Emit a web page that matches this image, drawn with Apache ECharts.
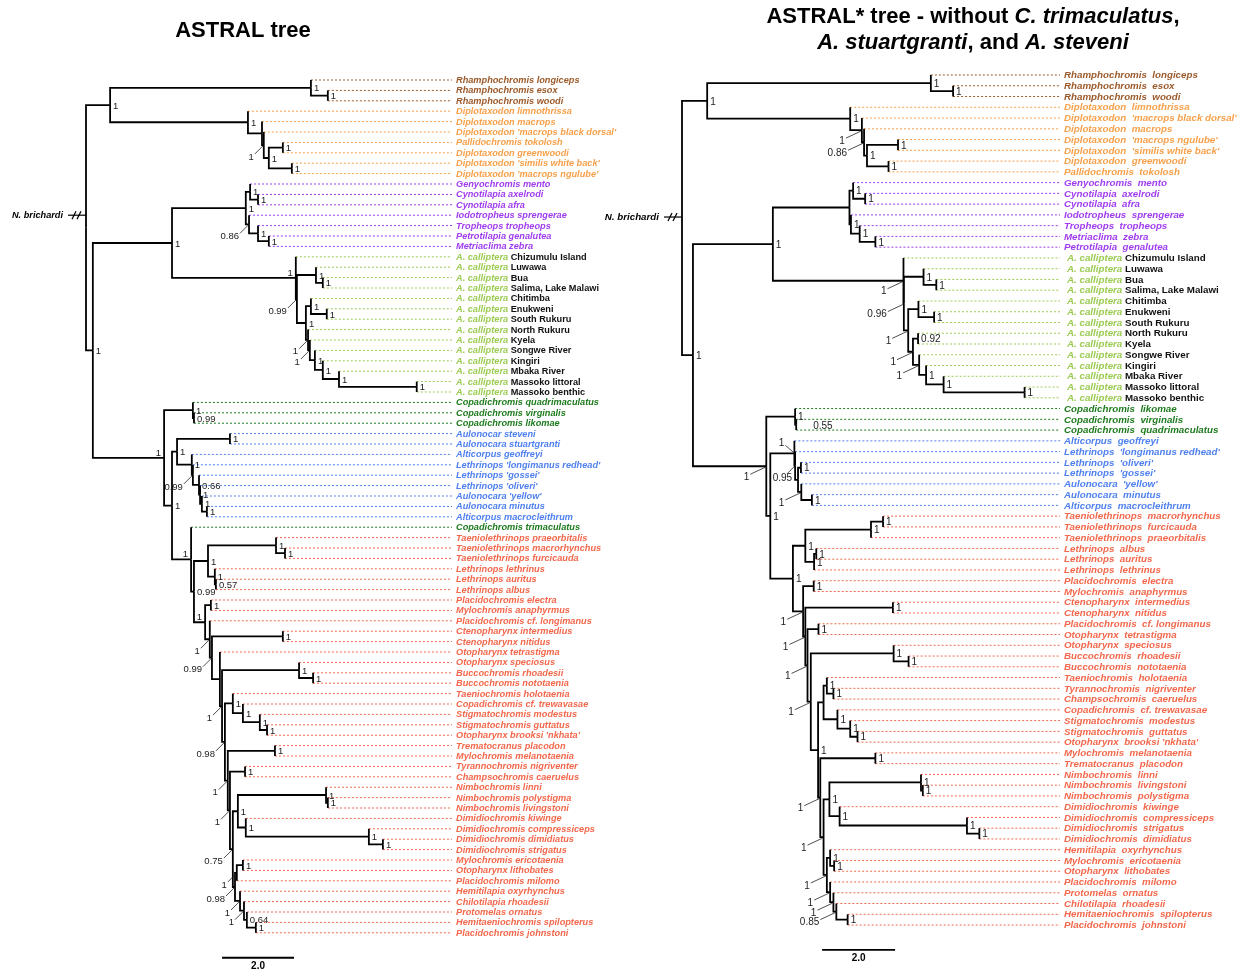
<!DOCTYPE html>
<html><head><meta charset="utf-8">
<script src="https://cdn.jsdelivr.net/npm/echarts@6/dist/echarts.min.js"></script>
<style>html,body{margin:0;padding:0;background:#fff}#c{width:1238px;height:970px}</style>
</head><body><div id="c"></div>
<script>
const FONT = '"Liberation Sans", Arial, Helvetica, sans-serif';

// ---------- DATA ----------
const leftLeaves = [
 'Rhamphochromis longiceps','Rhamphochromis esox','Rhamphochromis woodi',
 'Diplotaxodon limnothrissa','Diplotaxodon macrops',"Diplotaxodon 'macrops black dorsal'",'Pallidochromis tokolosh','Diplotaxodon greenwoodi',"Diplotaxodon 'similis white back'","Diplotaxodon 'macrops ngulube'",
 'Genyochromis mento','Cynotilapia axelrodi','Cynotilapia afra','Iodotropheus sprengerae','Tropheops tropheops','Petrotilapia genalutea','Metriaclima zebra',
 'A. calliptera Chizumulu Island','A. calliptera Luwawa','A. calliptera Bua','A. calliptera Salima, Lake Malawi','A. calliptera Chitimba','A. calliptera Enukweni','A. calliptera South Rukuru','A. calliptera North Rukuru','A. calliptera Kyela','A. calliptera Songwe River','A. calliptera Kingiri','A. calliptera Mbaka River','A. calliptera Massoko littoral','A. calliptera Massoko benthic',
 'Copadichromis quadrimaculatus','Copadichromis virginalis','Copadichromis likomae',
 'Aulonocar steveni','Aulonocara stuartgranti','Alticorpus geoffreyi',"Lethrinops 'longimanus redhead'","Lethrinops 'gossei'","Lethrinops 'oliveri'","Aulonocara 'yellow'",'Aulonocara minutus','Alticorpus macrocleithrum',
 'Copadichromis trimaculatus',
 'Taeniolethrinops praeorbitalis','Taeniolethrinops macrorhynchus','Taeniolethrinops furcicauda','Lethrinops lethrinus','Lethrinops auritus','Lethrinops albus','Placidochromis electra','Mylochromis anaphyrmus','Placidochromis cf. longimanus','Ctenopharynx intermedius','Ctenopharynx nitidus','Otopharynx tetrastigma','Otopharynx speciosus','Buccochromis rhoadesii','Buccochromis nototaenia','Taeniochromis holotaenia','Copadichromis cf. trewavasae','Stigmatochromis modestus','Stigmatochromis guttatus',"Otopharynx brooksi 'nkhata'",'Trematocranus placodon','Mylochromis melanotaenia','Tyrannochromis nigriventer','Champsochromis caeruelus','Nimbochromis linni','Nimbochromis polystigma','Nimbochromis livingstoni','Dimidiochromis kiwinge','Dimidiochromis compressiceps','Dimidiochromis dimidiatus','Dimidiochromis strigatus','Mylochromis ericotaenia','Otopharynx lithobates','Placidochromis milomo','Hemitilapia oxyrhynchus','Chilotilapia rhoadesii','Protomelas ornatus','Hemitaeniochromis spilopterus','Placidochromis johnstoni'
];
const leftGroups = 'RRRDDDDDDDMMMMMMMCCCCCCCCCCCCCCGGGBBBBBBBBBGOOOOOOOOOOOOOOOOOOOOOOOOOOOOOOOOOOOOOOO'.split('');

const rightLeaves = [
 'Rhamphochromis longiceps','Rhamphochromis esox','Rhamphochromis woodi',
 'Diplotaxodon limnothrissa',"Diplotaxodon 'macrops black dorsal'",'Diplotaxodon macrops',"Diplotaxodon 'macrops ngulube'","Diplotaxodon 'similis white back'",'Diplotaxodon greenwoodi','Pallidochromis tokolosh',
 'Genyochromis mento','Cynotilapia axelrodi','Cynotilapia afra','Iodotropheus sprengerae','Tropheops tropheops','Metriaclima zebra','Petrotilapia genalutea',
 'A. calliptera Chizumulu Island','A. calliptera Luwawa','A. calliptera Bua','A. calliptera Salima, Lake Malawi','A. calliptera Chitimba','A. calliptera Enukweni','A. calliptera South Rukuru','A. calliptera North Rukuru','A. calliptera Kyela','A. calliptera Songwe River','A. calliptera Kingiri','A. calliptera Mbaka River','A. calliptera Massoko littoral','A. calliptera Massoko benthic',
 'Copadichromis likomae','Copadichromis virginalis','Copadichromis quadrimaculatus',
 'Alticorpus geoffreyi',"Lethrinops 'longimanus redhead'","Lethrinops 'oliveri'","Lethrinops 'gossei'","Aulonocara 'yellow'",'Aulonocara minutus','Alticorpus macrocleithrum',
 'Taeniolethrinops macrorhynchus','Taeniolethrinops furcicauda','Taeniolethrinops praeorbitalis','Lethrinops albus','Lethrinops auritus','Lethrinops lethrinus','Placidochromis electra','Mylochromis anaphyrmus','Ctenopharynx intermedius','Ctenopharynx nitidus','Placidochromis cf. longimanus','Otopharynx tetrastigma','Otopharynx speciosus','Buccochromis rhoadesii','Buccochromis nototaenia','Taeniochromis holotaenia','Tyrannochromis nigriventer','Champsochromis caeruelus','Copadichromis cf. trewavasae','Stigmatochromis modestus','Stigmatochromis guttatus',"Otopharynx brooksi 'nkhata'",'Mylochromis melanotaenia','Trematocranus placodon','Nimbochromis linni','Nimbochromis livingstoni','Nimbochromis polystigma','Dimidiochromis kiwinge','Dimidiochromis compressiceps','Dimidiochromis strigatus','Dimidiochromis dimidiatus','Hemitilapia oxyrhynchus','Mylochromis ericotaenia','Otopharynx lithobates','Placidochromis milomo','Protomelas ornatus','Chilotilapia rhoadesii','Hemitaeniochromis spilopterus','Placidochromis johnstoni'
];
const rightGroups = 'RRRDDDDDDDMMMMMMMCCCCCCCCCCCCCCGGGBBBBBBBOOOOOOOOOOOOOOOOOOOOOOOOOOOOOOOOOOOOOOO'.split('');

// topology: (child,child)depth:support:labelPlacement ; leaves = leaf index ; depth in branch-length units
const L_RD = '((0,(1,2)6.72:1:r)6.25:1:r,(3,(4,(5,((6,7)5.47:1:r,(8,9)5.72:1:r)5.08:1:r)4.94:1:l)4.89::n)4.50:1:r)0.67:1:r';
const L_MBUNA = '((10,(11,12)4.78:1:r)4.56:1:r,(13,(14,(15,16)5.08:1:r)4.78:1:r)4.53:0.86:l)4.44:1:r';
const L_CALL = '(17,((18,(19,20)6.58:1:r)6.39:1:r,((21,(22,23)6.69:1:r)6.25:1:r,(24,(25,(26,(27,(28,(29,30)9.19:1:r)7.03:1:r)6.58:1:r)6.36:1:r)6.22:1:l)6.17:1:l)6.11:1:r)5.86:0.99:l)5.83:1:a';
const L_COPA = '(31,(32,33)3.0:0.99:r)2.97:1:r';
const L_BLUE = '((34,35)4.0:1:r,(36,(37,(38,(39,(40,(41,42)3.36:1:r)3.22:1:r)3.17:1:r)3.14:0.66:r)2.97:0.99:l)2.94:1:r)2.53:1:r';
const L_TL = '((44,(45,46)5.53:1:r)5.28:1:r,(47,(48,49)3.61:0.57:r)3.58:1:r)3.39:1:r';
const L_HOLO = '(59,(60,(61,(62,63)5.03:1:r)4.83:1:r)4.36:1:r)4.08:1:r';
const L_ND = '((68,(69,70)6.72:1:r)6.67:1:r,(71,(72,(73,74)8.25:1:r)7.86:1:r)4.44:1:r)4.22:1:r';
const L_H5 = '(((75,76)4.36:1:r,77)4.19:1:l,(78,(79,(80,(81,82)4.72:1:r)4.47:0.64:r)4.39:1:l)4.28:1:l)4.14:0.98:l';
const L_W = `(52,((53,54)5.47:1:r,(55,((56,(57,58)6.31:1:r)5.92:1:r,(${L_HOLO},((64,65)5.25:1:r,((66,67)4.42:1:r,(${L_ND},${L_H5})4.08:0.75:l)4.0:1:l)3.94:1:l)3.86:0.98:l)3.78:1:l)3.72::n)3.5:0.99:l)3.44:1:l`;
const L_RED = `(43,(${L_TL},((50,51)3.47:1:r,${L_W})3.31:1:a)3.0:0.99:r)2.92:1:a`;
const leftTopology = `(${L_RD},((${L_MBUNA},${L_CALL})2.39:1:r,(${L_COPA},(${L_BLUE},${L_RED})2.39:1:r)2.17:1:a)0.19:1:r)0::n`;

const R_RD = '((0,(1,2)7.43:1:r)6.82:1:r,(3,(4,(5,((6,7)5.92:1:r,(8,9)5.66:1:r)5.07:1:r)4.99:0.86:l)4.93:1:l)4.61:1:r)0.69:1:r';
const R_MBUNA = '((10,(11,12)5.02:1:r)4.69:1:r,(13,(14,(15,16)5.30:1:r)4.87:1:r)4.63:1:r)4.59::n';
const R_CALL = '(17,((18,(19,20)6.97:1:r)6.62:1:r,((21,(22,23)6.91:1:r)6.48:1:r,((24,25)6.47:0.92:r,(26,(27,(28,(29,30)9.39:1:r)7.17:1:r)6.69:1:r)6.50:1:l)6.33:1:l)6.20:1:l)6.08:0.96:l)6.07:1:l';
const R_COPA = '(31,(32,33)3.13:0.55:f)3.10:1:r';
const R_BLUE = '(34,(35,((36,37)3.26:1:r,(38,(39,40)3.56:1:r)3.27:1:l)3.18::n)3.10:0.95:d)3.08:1:u';
const R_TL = '(((41,42)5.51:1:r,43)5.18:1:r,((44,45)3.68:1:r,46)3.62:1:r)3.38:1:r';
const R_HT = '((56,(57,58)4.15:1:r)3.97:1:r,(59,(60,(61,62)4.81:1:r)4.61:1:r)4.26:1:r)3.88::n';
const R_ND = '((65,(66,67)6.60:1:r)6.55:1:r,(68,(69,(70,71)8.15:1:r)7.81:1:r)4.32:1:r)4.04:1:r';
const R_S5 = '((72,(73,74)4.17:1:r)4.06:1:r,(75,(76,(77,(78,79)4.54:1:r)4.23:0.85:l)4.15:1:l)4.06:1:l)3.97:1:l';
const R_X = `((47,48)3.61:1:r,((49,50)5.78:1:r,((51,52)3.74:1:r,((53,(54,55)6.21:1:r)5.80:1:r,(${R_HT},((63,64)5.30:1:r,(${R_ND},${R_S5})3.88:1:l)3.79:1:l)3.73:1:r)3.53:1:l)3.44:1:l)3.38:1:l)3.32:1:l`;
const rightTopology = `(${R_RD},((${R_MBUNA},${R_CALL})2.49:1:r,(${R_COPA},(${R_BLUE},(${R_TL},${R_X})3.04:1:r)2.42:1:r)2.31:1:l)0.30:1:r)0::n`;

const tipAlign = [10.17, 10.36];        // depth where dotted tip lines end
const outgroupPos = [13.0, 13.2];       // leaf-row position of N. brichardi stub
const scaleBars = [[3.78, 84.4, 2.0], [3.84, 81.3, 2.0]];
const groupColors = {R:'#9b5a2b', D:'#f7a04a', M:'#a03cf0', C:'#9ccb52', G:'#1e7b1e', B:'#4f80f0', O:'#f3684c'};

// ---------- TREE HANDLING ----------
function parseTree(str){
  let i = 0;
  function tok(){ let t=''; while(i<str.length && str[i]!==',' && str[i]!==')') t+=str[i++]; return t; }
  function node(){
    if(str[i]==='('){
      i++; const kids=[node()];
      while(str[i]===','){ i++; kids.push(node()); }
      i++;
      const [d,s,p] = tok().split(':');
      return {kids, depth:parseFloat(d), sup:s||'', pos:p||'n'};
    }
    return {leaf: parseInt(tok(),10)};
  }
  return node();
}
function layoutTree(str){
  const root = parseTree(str);
  const edges=[], tips=[], sups=[];
  (function walk(n){
    if(n.leaf!==undefined){ n.y=n.leaf; return; }
    n.kids.forEach(walk);
    n.y = (n.kids[0].y + n.kids[n.kids.length-1].y)/2;
    n.kids.forEach(k=>{
      const isLeaf = k.leaf!==undefined;
      edges.push([n.depth, n.y, isLeaf? n.depth : k.depth, k.y]);
      if(isLeaf) tips.push([n.depth, k.y, k.leaf]);
    });
    if(n.sup) sups.push([n.depth, n.y, sups.length, n.sup, n.pos]);
  })(root);
  return {edges, tips, sups, root};
}

const trees = [
  {lay: layoutTree(leftTopology), names:leftLeaves, groups:leftGroups, fs:9.2, sfs:9.5, dbl:false, ldx:8, ldy:8},
  {lay: layoutTree(rightTopology), names:rightLeaves, groups:rightGroups, fs:9.75, sfs:10, dbl:true, ldx:15, ldy:7}
];

const series = [];
trees.forEach((T, ti)=>{
  const axis = {xAxisIndex:ti, yAxisIndex:ti, coordinateSystem:'cartesian2d', silent:true, clip:false};
  // tip dotted lines + labels
  series.push(Object.assign({type:'custom', z:2, data:T.lay.tips, renderItem(params, api){
    const leaf = api.value(2);
    const a = api.coord([api.value(0), api.value(1)]);
    const b = api.coord([tipAlign[ti], api.value(1)]);
    const g = T.groups[leaf], col = groupColors[g];
    let name = T.names[leaf];
    const base = {fontSize:T.fs, fontFamily:FONT, fontWeight:'bold'};
    let txt;
    if(g==='C'){
      const rest = name.replace('A. calliptera ','');
      txt = {type:'text', style:{text:'{g|A. calliptera} {b|'+rest+'}', x:b[0]+4+(T.dbl?3:0), y:b[1]+0.5,
        font:`bold ${T.fs}px ${FONT}`, fill:'#000', align:'left', verticalAlign:'middle',
        rich:{g:Object.assign({fill:col, fontStyle:'italic'}, base), b:Object.assign({fill:'#111'}, base)}}};
    } else {
      if(T.dbl) name = name.replace(' ', '  ');
      txt = {type:'text', style:{text:name, x:b[0]+4, y:b[1]+0.5, font:`italic bold ${T.fs}px ${FONT}`,
        fill:col, align:'left', verticalAlign:'middle'}};
    }
    return {type:'group', children:[
      {type:'line', shape:{x1:a[0], y1:a[1], x2:b[0], y2:b[1]}, style:{stroke:col, lineWidth:1, lineDash:[2,2]}},
      txt]};
  }}, axis));
  // branches
  series.push(Object.assign({type:'custom', z:3, data:T.lay.edges, renderItem(params, api){
    const p0 = api.coord([api.value(0), api.value(1)]);
    const p1 = api.coord([api.value(0), api.value(3)]);
    const p2 = api.coord([api.value(2), api.value(3)]);
    return {type:'polyline', shape:{points:[p0,p1,p2]}, style:{stroke:'#000', lineWidth:1.8, fill:null, lineJoin:'miter'}};
  }}, axis));
  // support values
  series.push(Object.assign({type:'custom', z:4, data:T.lay.sups.map(s=>[s[0],s[1],s[2]]), renderItem(params, api){
    const s = T.lay.sups[params.dataIndex];
    const p = api.coord([s[0], s[1]]);
    const font = `${T.sfs}px ${FONT}`;
    const st = (text, x, y, align)=>({type:'text', style:{text, x, y, font, fill:'#222', align, verticalAlign:'middle'}});
    const ln = (x1,y1,x2,y2)=>({type:'line', shape:{x1,y1,x2,y2}, style:{stroke:'#222', lineWidth:0.8}});
    if(s[4]==='r') return st(s[3], p[0]+3, p[1]+1, 'left');
    if(s[4]==='f') return st(s[3], p[0]+17, p[1]+1.5, 'left');
    if(s[4]==='a') return st(s[3], p[0]-3, p[1]-5, 'right');
    if(s[4]==='d') return {type:'group', children:[ln(p[0]-1, p[1]+1, p[0]-8, p[1]+8), st(s[3], p[0]-3, p[1]+13, 'right')]};
    if(s[4]==='l' || s[4]==='u'){
      const up = s[4]==='u';
      const ex = p[0]-1-(up?8:T.ldx), ey = up ? p[1]-8 : p[1]+1+T.ldy;
      return {type:'group', children:[ln(p[0]-1, p[1]+(up?-1:1), ex, ey), st(s[3], ex-1, up? ey-2 : ey+3, 'right')]};
    }
    return null;
  }}, axis));
  // outgroup + scale bar
  series.push(Object.assign({type:'custom', z:5, data:[[0, outgroupPos[ti], 0]], renderItem(params, api){
    const r = api.coord([0, outgroupPos[ti]]);
    const sb = scaleBars[ti];
    const s0 = api.coord([sb[0], sb[1]]), s1 = api.coord([sb[0]+sb[2], sb[1]]);
    const kids = [
      {type:'line', shape:{x1:r[0]-18, y1:r[1], x2:r[0], y2:r[1]}, style:{stroke:'#000', lineWidth:1.2}},
      {type:'line', shape:{x1:r[0]-14, y1:r[1]+4, x2:r[0]-10, y2:r[1]-4}, style:{stroke:'#000', lineWidth:1.2}},
      {type:'line', shape:{x1:r[0]-9, y1:r[1]+4, x2:r[0]-5, y2:r[1]-4}, style:{stroke:'#000', lineWidth:1.2}},
      {type:'text', style:{text:'N. brichardi', x:r[0]-23, y:r[1], font:`italic bold ${T.fs}px ${FONT}`, fill:'#000', align:'right', verticalAlign:'middle'}},
      {type:'line', shape:{x1:s0[0], y1:s0[1], x2:s1[0], y2:s1[1]}, style:{stroke:'#000', lineWidth:1.8}},
      {type:'text', style:{text:sb[2].toFixed(1), x:(s0[0]+s1[0])/2, y:s0[1]+8, font:`bold 10px ${FONT}`, fill:'#000', align:'center', verticalAlign:'middle'}}
    ];
    return {type:'group', children:kids};
  }}, axis));
});

const chart = echarts.init(document.getElementById('c'), null, {renderer:'canvas'});
chart.setOption({
  animation:false,
  backgroundColor:'#fff',
  grid:[
    {left:86, top:80, width:366, height:(leftLeaves.length-1)*10.4, containLabel:false},
    {left:682, top:75, width:378, height:(rightLeaves.length-1)*10.76, containLabel:false}
  ],
  xAxis:[
    {gridIndex:0, type:'value', min:0, max:tipAlign[0], show:false},
    {gridIndex:1, type:'value', min:0, max:tipAlign[1], show:false}
  ],
  yAxis:[
    {gridIndex:0, type:'value', min:0, max:leftLeaves.length-1, inverse:true, show:false},
    {gridIndex:1, type:'value', min:0, max:rightLeaves.length-1, inverse:true, show:false}
  ],
  graphic:[
    {type:'text', x:243, y:31, style:{text:'ASTRAL tree', font:`bold 22px ${FONT}`, fill:'#000', align:'center', verticalAlign:'middle'}},
    {type:'text', x:973, y:17, style:{text:'{n|ASTRAL* tree - without }{i|C. trimaculatus}{n|,}', align:'center', verticalAlign:'middle',
      font:`bold 22px ${FONT}`, fill:'#000',
      rich:{n:{fontSize:22, fontWeight:'bold', fontFamily:FONT, fill:'#000'}, i:{fontSize:22, fontWeight:'bold', fontStyle:'italic', fontFamily:FONT, fill:'#000'}}}},
    {type:'text', x:973, y:43, style:{text:'{i|A. stuartgranti}{n|, and }{i|A. steveni}', align:'center', verticalAlign:'middle',
      font:`bold 22px ${FONT}`, fill:'#000',
      rich:{n:{fontSize:22, fontWeight:'bold', fontFamily:FONT, fill:'#000'}, i:{fontSize:22, fontWeight:'bold', fontStyle:'italic', fontFamily:FONT, fill:'#000'}}}}
  ],
  series
});
</script>
</body></html>
